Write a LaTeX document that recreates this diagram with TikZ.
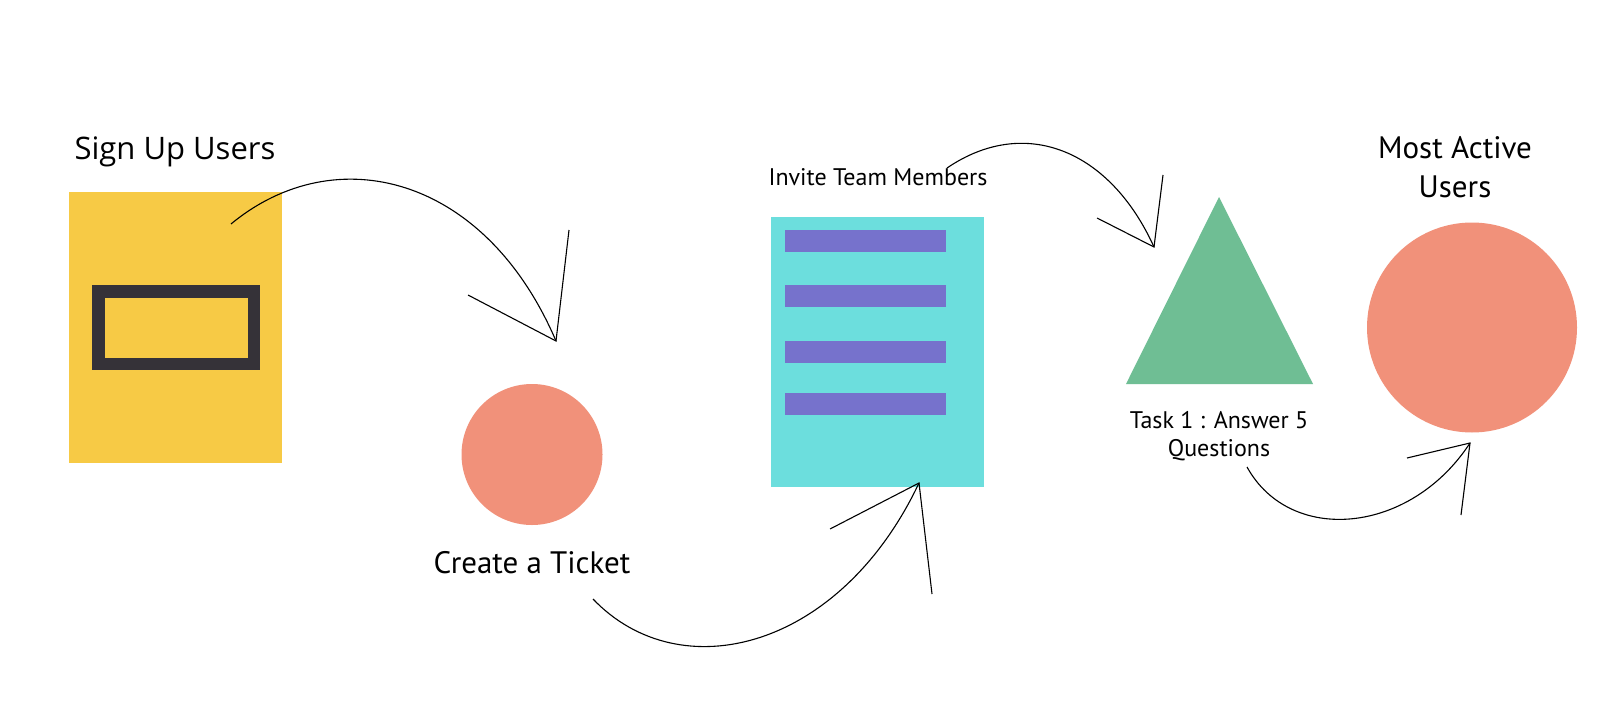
\documentclass[tikz,border=0pt]{standalone}
\usepackage{fontspec}
\setmainfont{PT Sans}
\newfontfamily\signfont{Open Sans}
\definecolor{signyellow}{HTML}{F7CA45}
\definecolor{framedark}{HTML}{353238}
\definecolor{salmon}{HTML}{F1917A}
\definecolor{docteal}{HTML}{6CDEDD}
\definecolor{barpurple}{HTML}{7672CC}
\definecolor{trigreen}{HTML}{6FBE94}
\begin{document}
\begin{tikzpicture}[x=1pt,y=-1pt,
  shapebox/.style={rectangle, inner sep=0pt, outer sep=0pt},
  dot/.style={circle, fill=salmon, inner sep=0pt, outer sep=0pt},
  bar/.style={shapebox, fill=barpurple, minimum width=161pt, minimum height=22pt},
  biglabel/.style={font=\fontsize{31}{39}\selectfont, inner sep=0pt, anchor=base, align=center},
  smalllabel/.style={font=\fontsize{24}{28}\selectfont, inner sep=0pt, anchor=base, align=center},
  curve/.style={draw=black, line width=1.1pt},
  head/.style={draw=black, line width=1.1pt, line join=miter}]
\useasboundingbox[fill=white] (0,0) rectangle (1600,725);

% Sign up users
\node[shapebox, fill=signyellow, minimum width=213pt, minimum height=271pt] (signup) at (175.5,327.5) {};
\node[shapebox, draw=framedark, line width=12.5pt, minimum width=155.5pt, minimum height=72.5pt] (card) at (176,327.5) {};
\node[biglabel, font=\signfont\fontsize{31}{37}\selectfont] (signuplbl) at (175,159) {Sign Up Users};

% Create a ticket
\node[dot, minimum size=141pt] (ticket) at (532,454.5) {};
\node[biglabel] (ticketlbl) at (532,573) {Create a Ticket};

% Invite team members
\node[shapebox, fill=docteal, minimum width=213pt, minimum height=270pt] (doc) at (877.5,352) {};
\node[bar] (bar1) at (865.5,240.5) {};
\node[bar] (bar2) at (865.5,296) {};
\node[bar] (bar3) at (865.5,352) {};
\node[bar] (bar4) at (865.5,404) {};
\node[smalllabel] (doclbl) at (878,185) {Invite Team Members};

% Task triangle
\coordinate (apex) at (1219,197);
\coordinate (tbl) at (1126,384);
\coordinate (tbr) at (1313,384);
\fill[trigreen] (apex) -- (tbl) -- (tbr) -- cycle;
\node[smalllabel] (tasklbl) at (1219,456) {Task 1 : Answer 5\\Questions};

% Most active users
\node[dot, minimum size=210pt] (active) at (1472,327.5) {};
\node[biglabel] (activelbl) at (1455,197) {Most Active\\Users};

% Arrow 1
\coordinate (a1s) at (231,224);
\coordinate (a1t) at (556,341);
\coordinate (a1l) at (468,295);
\coordinate (a1r) at (569,230);
\draw[curve] (a1s) .. controls (335,138) and (485,175) .. (a1t);
\draw[head] (a1l) -- (a1t) -- (a1r);

% Arrow 2
\coordinate (a2s) at (593,599);
\coordinate (a2t) at (919,483);
\coordinate (a2l) at (830,529);
\coordinate (a2r) at (932,594);
\draw[curve] (a2s) .. controls (680,690) and (840,650) .. (a2t);
\draw[head] (a2l) -- (a2t) -- (a2r);

% Arrow 3
\coordinate (a3s) at (947,168);
\coordinate (a3t) at (1154,247);
\coordinate (a3l) at (1097,218);
\coordinate (a3r) at (1163,175);
\draw[curve] (a3s) .. controls (1025,115) and (1110,150) .. (a3t);
\draw[head] (a3l) -- (a3t) -- (a3r);

% Arrow 4
\coordinate (a4s) at (1247,467);
\coordinate (a4t) at (1470,443);
\coordinate (a4l) at (1407,458);
\coordinate (a4r) at (1461,515);
\draw[curve] (a4s) .. controls (1290,545) and (1410,535) .. (a4t);
\draw[head] (a4l) -- (a4t) -- (a4r);
\end{tikzpicture}
\end{document}
